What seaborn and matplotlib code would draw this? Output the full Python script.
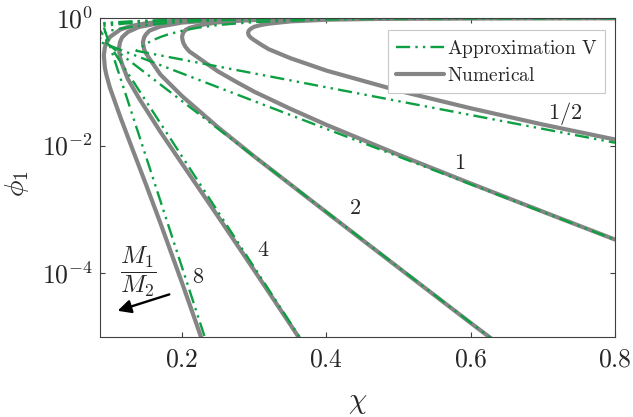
import matplotlib
matplotlib.use("Agg")
import matplotlib.pyplot as plt
import seaborn as sns
from matplotlib.lines import Line2D
from matplotlib.ticker import NullLocator

# Numerical binodals: upper branch (right -> nose),
# then lower branch (nose -> right)
chi_num_half = [0.8, 0.7, 0.6, 0.5, 0.4, 0.35, 0.32, 0.31, 0.30, 0.295, 0.2925, 0.2914,
                0.2925, 0.295, 0.30, 0.31, 0.32, 0.35, 0.4, 0.5, 0.6, 0.7, 0.8]
phi_num_half = [0.99911, 0.99754, 0.9933, 0.9808, 0.94, 0.885, 0.815, 0.78, 0.73, 0.676, 0.634, 0.586,
                0.533, 0.494, 0.45, 0.38, 0.325, 0.235, 0.150, 0.0725, 0.0385, 0.0214, 0.01247]

chi_num_1 = [0.8, 0.7, 0.6, 0.5, 0.4, 0.35, 0.3, 0.275, 0.25, 0.235, 0.22, 0.21, 0.205, 0.202, 0.2007, 0.2,
             0.2007, 0.202, 0.205, 0.21, 0.22, 0.235, 0.25, 0.275, 0.3, 0.35, 0.4, 0.5, 0.6, 0.7, 0.8]
phi_num_1 = [0.99966, 0.99908, 0.99745, 0.9928, 0.9788, 0.9622, 0.93, 0.90, 0.855, 0.81, 0.75, 0.70, 0.65, 0.60, 0.55, 0.5,
             0.45, 0.40, 0.35, 0.30, 0.25, 0.19, 0.145, 0.10, 0.07, 0.0378, 0.0212, 0.0072, 0.00255, 0.000922, 0.000337]

chi_num_2 = [0.8, 0.7, 0.6, 0.5, 0.4, 0.3, 0.25, 0.2, 0.17, 0.155, 0.15, 0.1475, 0.1457,
             0.1475, 0.15, 0.155, 0.17, 0.2, 0.25, 0.3, 0.4, 0.5, 0.6, 0.63]
phi_num_2 = [0.9998, 0.99945, 0.9985, 0.9957, 0.9877, 0.9614, 0.927, 0.848, 0.738, 0.635, 0.555, 0.50, 0.414,
             0.32, 0.28, 0.229, 0.13, 0.0597, 0.0193, 0.00677, 9.03e-4, 1.22e-4, 1.66e-5, 9.2e-6]

chi_num_4 = [0.8, 0.6, 0.5, 0.37, 0.3, 0.25, 0.2, 0.17, 0.14, 0.125, 0.117, 0.114, 0.1125,
             0.114, 0.117, 0.125, 0.14, 0.17, 0.2, 0.25, 0.3, 0.35, 0.37]
phi_num_4 = [0.99984, 0.9988, 0.9967, 0.987, 0.9715, 0.948, 0.8994, 0.838, 0.722, 0.605, 0.50, 0.42, 0.333,
             0.24, 0.188, 0.11, 0.056, 0.0164, 0.0052, 7.7e-4, 1.11e-4, 1.57e-5, 7.1e-6]

chi_num_8 = [0.8, 0.6, 0.4, 0.3, 0.23, 0.2, 0.17, 0.15, 0.13, 0.115, 0.1, 0.095, 0.093, 0.0916,
             0.093, 0.095, 0.1, 0.115, 0.13, 0.15, 0.17, 0.2, 0.22, 0.23]
phi_num_8 = [0.99986, 0.999, 0.992, 0.975, 0.9434, 0.9164, 0.872, 0.825, 0.752, 0.665, 0.505, 0.40, 0.345, 0.261,
             0.167, 0.13, 0.081, 0.027, 0.0096, 0.00246, 6.1e-4, 7.05e-5, 1.6e-5, 7.5e-6]

# Approximation V: upper branch (right -> crossing), then straight lower branch
chi_apx_half = [0.8, 0.6, 0.5, 0.4, 0.3, 0.25, 0.22, 0.2, 0.18, 0.17, 0.16, 0.15, 0.14, 0.1366, 0.8]
phi_apx_half = [0.99909, 0.9933, 0.9817, 0.9502, 0.8647, 0.777, 0.6988, 0.632, 0.5507, 0.5034, 0.4512, 0.3935,
                0.3297, 0.3064, 0.0111]

chi_apx_1 = [0.8, 0.6, 0.5, 0.4, 0.3, 0.25, 0.2, 0.17, 0.15, 0.13, 0.11, 0.1, 0.0863, 0.0693, 0.8]
phi_apx_1 = [0.99966, 0.99752, 0.99326, 0.98168, 0.9502, 0.9179, 0.8647, 0.8173, 0.7769, 0.7275, 0.6671,
             0.6321, 0.578, 0.5, 3.35e-4]

chi_apx_2 = [0.8, 0.6, 0.5, 0.4, 0.3, 0.25, 0.2, 0.15, 0.12, 0.1, 0.0863, 0.0682, 0.63]
phi_apx_2 = [0.9998, 0.9985, 0.9959, 0.9889, 0.9698, 0.9502, 0.9179, 0.8647, 0.8173, 0.7769, 0.744, 0.695, 9.2e-6]

chi_apx_4 = [0.8, 0.6, 0.5, 0.4, 0.3, 0.25, 0.2, 0.15, 0.12, 0.1, 0.081, 0.37]
phi_apx_4 = [0.99984, 0.99883, 0.99682, 0.99135, 0.9765, 0.9612, 0.9361, 0.8946, 0.8577, 0.8262, 0.7899, 7.5e-6]

chi_apx_8 = [0.8, 0.6, 0.5, 0.4, 0.3, 0.25, 0.2, 0.15, 0.12, 0.1, 0.0898, 0.235]
phi_apx_8 = [0.99986, 0.99897, 0.99716, 0.99237, 0.9792, 0.9658, 0.9436, 0.907, 0.8744, 0.8466, 0.8302, 7.5e-6]

ratio_labels = ["$1/2$", "$1$", "$2$", "$4$", "$8$"]
label_chi = [0.731, 0.585, 0.440, 0.312, 0.222]
label_phi = [0.0323, 0.0053, 0.00104, 2.28e-4, 8.6e-5]

GRAY = "#858585"
GREEN = "#0da043"
DASH = (0, (6, 2.2, 1, 2.2, 1, 2.2))

sns.set_style("ticks")
plt.rcParams["mathtext.fontset"] = "cm"
plt.rcParams["font.family"] = ["DejaVu Sans"]

fig, ax = plt.subplots(figsize=(6.33, 4.17), dpi=100)
fig.subplots_adjust(left=0.158, right=0.9716, bottom=0.1918, top=0.9568)
ax.set_yscale("log")

numerical = [(chi_num_half, phi_num_half), (chi_num_1, phi_num_1), (chi_num_2, phi_num_2),
             (chi_num_4, phi_num_4), (chi_num_8, phi_num_8)]
approx = [(chi_apx_half, phi_apx_half), (chi_apx_1, phi_apx_1), (chi_apx_2, phi_apx_2),
          (chi_apx_4, phi_apx_4), (chi_apx_8, phi_apx_8)]

for x, y in numerical:
    sns.lineplot(x=x, y=y, sort=False, estimator=None, color=GRAY, lw=3, ax=ax)
for x, y in approx:
    sns.lineplot(x=x, y=y, sort=False, estimator=None, color=GREEN, lw=1.7, linestyle=DASH, ax=ax)

ax.set_xlim(0.0863, 0.8)
ax.set_ylim(1e-5, 1)

ax.set_xticks([0.2, 0.4, 0.6, 0.8])
ax.set_xticklabels(["$0.2$", "$0.4$", "$0.6$", "$0.8$"], fontsize=18.5)
ax.set_yticks([1, 1e-2, 1e-4])
ax.set_yticklabels(["$10^{0}$", "$10^{-2}$", "$10^{-4}$"], fontsize=18.5)
ax.yaxis.set_minor_locator(NullLocator())
ax.tick_params(direction="in", top=True, right=True, length=3.5, width=0.8, color="#404040")
ax.tick_params(axis="x", pad=7)
ax.tick_params(axis="y", pad=5)
for sp in ax.spines.values():
    sp.set_color("#404040")
    sp.set_linewidth(0.8)

ax.set_xlabel(r"$\chi$", fontsize=21)
ax.set_ylabel(r"$\phi_1$", fontsize=20)
ax.xaxis.set_label_coords(0.5, -0.16)
ax.yaxis.set_label_coords(-0.134, 0.48)

for txt, cx, cy in zip(ratio_labels, label_chi, label_phi):
    ax.text(cx, cy, txt, fontsize=16, ha="center", va="center")

ax.text(0.139, 1.07e-4, r"$\dfrac{M_1}{M_2}$", fontsize=18, ha="center", va="center")
ax.annotate("", xy=(0.107, 2.5e-5), xytext=(0.186, 4.8e-5),
            arrowprops=dict(arrowstyle="-|>", color="k", lw=1.7, mutation_scale=20))

handles = [Line2D([], [], color=GREEN, lw=1.7, linestyle=DASH),
           Line2D([], [], color=GRAY, lw=3)]
leg = ax.legend(handles, [r"$\mathrm{Approximation\ V}$", r"$\mathrm{Numerical}$"],
                loc="upper right", bbox_to_anchor=(0.981, 0.962), fontsize=14,
                frameon=True, fancybox=False, framealpha=1, edgecolor="#c8c8c8",
                handlelength=2.5, handletextpad=0.15, borderpad=0.4, labelspacing=0.3,
                borderaxespad=0)
leg.get_frame().set_linewidth(0.8)

fig.savefig("out.png", dpi=100)
plt.close(fig)
